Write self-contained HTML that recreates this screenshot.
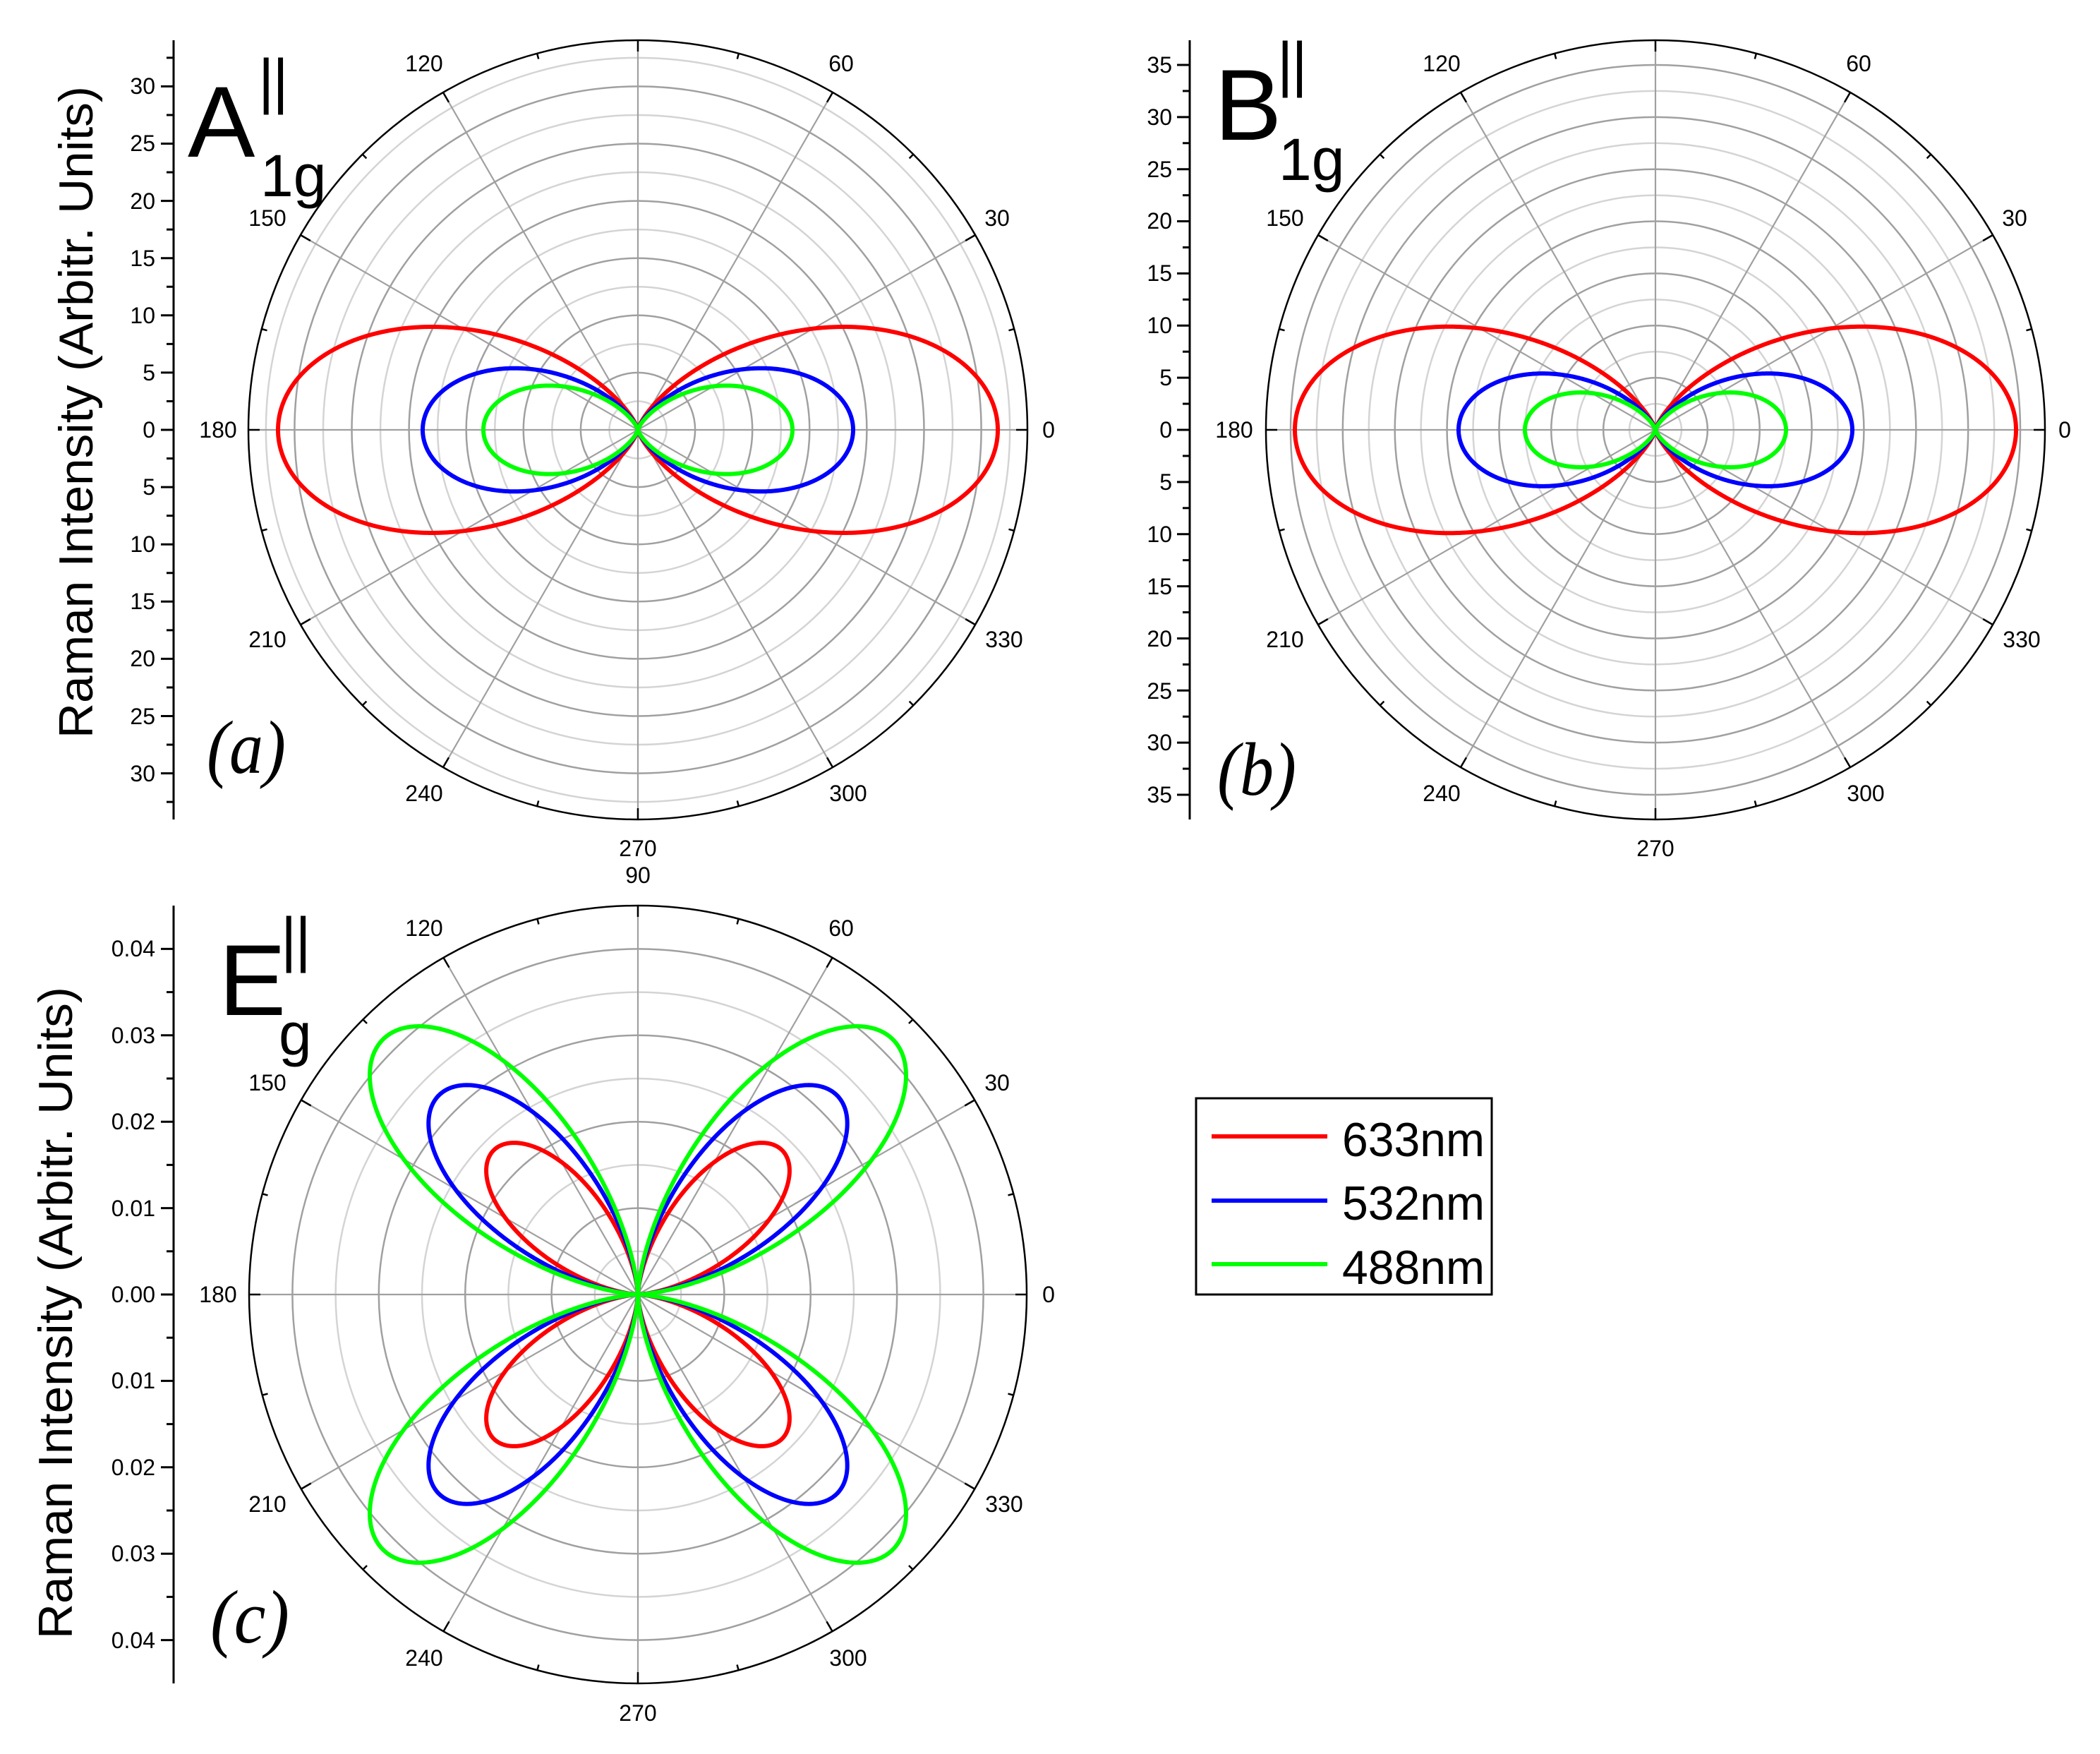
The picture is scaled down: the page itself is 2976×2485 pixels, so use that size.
<!DOCTYPE html>
<html><head><meta charset="utf-8">
<style>
html,body{margin:0;padding:0;background:#fff;}
svg{display:block;}
text{font-family:"Liberation Sans",Arial,sans-serif;fill:#000;}
.t{font-size:32px;}
.big{font-size:143px;}
.bar{font-size:86px;}
.sub{font-size:84px;}
.it{font-family:"Liberation Serif","Times New Roman",serif;font-style:italic;font-size:107px;}
.ttl{font-size:68px;}
.lg{font-size:68px;}
</style></head>
<body>
<svg id="s" xmlns="http://www.w3.org/2000/svg" width="2976" height="2485" viewBox="0 0 2976 2485">
<rect width="2976" height="2485" fill="#fff"/>
<g id="grid"></g>
<g id="curves"></g>
<g id="axes"></g>

<!-- Panel A texts -->
<g class="t" text-anchor="middle">
<text x="1192" y="101">60</text><text x="601" y="101">120</text>
<text x="1413" y="320">30</text><text x="379" y="320">150</text>
<text x="1486" y="620">0</text><text x="309" y="620">180</text>
<text x="1423" y="917">330</text><text x="379" y="917">210</text>
<text x="1202" y="1135">300</text><text x="601" y="1135">240</text>
<text x="904" y="1213">270</text><text x="904" y="1251">90</text>
</g>
<g class="t" text-anchor="end">
<text x="220" y="133">30</text><text x="220" y="214">25</text><text x="220" y="296">20</text>
<text x="220" y="377">15</text><text x="220" y="458">10</text><text x="220" y="539">5</text>
<text x="220" y="620">0</text><text x="220" y="701">5</text><text x="220" y="782">10</text>
<text x="220" y="863">15</text><text x="220" y="944">20</text><text x="220" y="1026">25</text>
<text x="220" y="1107">30</text>
</g>
<text class="ttl" text-anchor="middle" textLength="924" lengthAdjust="spacingAndGlyphs" transform="translate(131,584) rotate(-90)">Raman Intensity (Arbitr. Units)</text>
<text class="big" x="266" y="222">A</text>
<text class="bar" x="366" y="144" letter-spacing="-2">||</text>
<text class="sub" x="369" y="278">1g</text>
<text class="it" x="293" y="1095" textLength="112" lengthAdjust="spacingAndGlyphs">(a)</text>

<!-- Panel B texts -->
<g class="t" text-anchor="middle">
<text x="2634" y="101">60</text><text x="2043" y="101">120</text>
<text x="2855" y="320">30</text><text x="1821" y="320">150</text>
<text x="2926" y="620">0</text><text x="1749" y="620">180</text>
<text x="2865" y="917">330</text><text x="1821" y="917">210</text>
<text x="2644" y="1135">300</text><text x="2043" y="1135">240</text>
<text x="2346" y="1213">270</text>
</g>
<g class="t" text-anchor="end">
<text x="1661" y="103">35</text><text x="1661" y="177">30</text><text x="1661" y="251">25</text>
<text x="1661" y="324">20</text><text x="1661" y="398">15</text><text x="1661" y="472">10</text>
<text x="1661" y="546">5</text><text x="1661" y="620">0</text><text x="1661" y="694">5</text>
<text x="1661" y="768">10</text><text x="1661" y="842">15</text><text x="1661" y="916">20</text>
<text x="1661" y="990">25</text><text x="1661" y="1063">30</text><text x="1661" y="1137">35</text>
</g>
<text class="big" x="1721" y="198">B</text>
<text class="bar" x="1810" y="120" letter-spacing="-2">||</text>
<text class="sub" x="1812" y="255">1g</text>
<text class="it" x="1725" y="1126" textLength="112" lengthAdjust="spacingAndGlyphs">(b)</text>

<!-- Panel C texts -->
<g class="t" text-anchor="middle">
<text x="1192" y="1326">60</text><text x="601" y="1326">120</text>
<text x="1413" y="1545">30</text><text x="379" y="1545">150</text>
<text x="1486" y="1845">0</text><text x="309" y="1845">180</text>
<text x="1423" y="2142">330</text><text x="379" y="2142">210</text>
<text x="1202" y="2360">300</text><text x="601" y="2360">240</text>
<text x="904" y="2438">270</text>
</g>
<g class="t" text-anchor="end">
<text x="220" y="1355">0.04</text><text x="220" y="1478">0.03</text><text x="220" y="1600">0.02</text>
<text x="220" y="1723">0.01</text><text x="220" y="1845">0.00</text><text x="220" y="1967">0.01</text>
<text x="220" y="2090">0.02</text><text x="220" y="2212">0.03</text><text x="220" y="2335">0.04</text>
</g>
<text class="ttl" text-anchor="middle" textLength="924" lengthAdjust="spacingAndGlyphs" transform="translate(102,1860) rotate(-90)">Raman Intensity (Arbitr. Units)</text>
<text class="big" x="310" y="1438">E</text>
<text class="bar" x="398" y="1360" letter-spacing="-2">||</text>
<text class="sub" x="395" y="1494">g</text>
<text class="it" x="298" y="2327" textLength="112" lengthAdjust="spacingAndGlyphs">(c)</text>

<!-- Legend -->
<rect x="1695" y="1556" width="419" height="278" fill="none" stroke="#000" stroke-width="3"/>
<line x1="1717" y1="1610" x2="1881" y2="1610" stroke="#ff0000" stroke-width="6"/>
<line x1="1717" y1="1701" x2="1881" y2="1701" stroke="#0000ff" stroke-width="6"/>
<line x1="1717" y1="1791" x2="1881" y2="1791" stroke="#00ff00" stroke-width="6"/>
<text class="lg" x="1902" y="1638" textLength="202" lengthAdjust="spacingAndGlyphs">633nm</text>
<text class="lg" x="1902" y="1728" textLength="202" lengthAdjust="spacingAndGlyphs">532nm</text>
<text class="lg" x="1902" y="1819" textLength="202" lengthAdjust="spacingAndGlyphs">488nm</text>
</svg>
<script>
(function(){
var NS="http://www.w3.org/2000/svg";
function el(p,tag,a){var e=document.createElementNS(NS,tag);for(var k in a)e.setAttribute(k,a[k]);p.appendChild(e);return e;}
var grid=document.getElementById('grid'),cur=document.getElementById('curves'),ax=document.getElementById('axes');
function panel(P){
  var cx=P.cx,cy=P.cy,R=P.R;
  for(var k=1;k<=P.n;k++){
    el(grid,'circle',{cx:cx,cy:cy,r:P.step*k,fill:'none',stroke:(k%2==0)?'#a0a0a0':'#d4d4d4','stroke-width':2.5});
  }
  for(var a=0;a<360;a+=30){
    var t=a*Math.PI/180;
    el(grid,'line',{x1:cx,y1:cy,x2:cx+R*Math.cos(t),y2:cy-R*Math.sin(t),stroke:'#a0a0a0','stroke-width':2.2});
  }
  var cols=['#ff0000','#0000ff','#00ff00'];
  for(var i=0;i<3;i++){
    var A=P.amp[i],pts=[];
    for(var j=0;j<=1440;j++){
      var t=j/1440*2*Math.PI,r;
      if(P.type==0){var c=Math.cos(t);r=A*c*c*c*c;}
      else{var s=Math.sin(2*t);r=A*s*s;}
      pts.push((cx+r*Math.cos(t)).toFixed(2)+','+(cy-r*Math.sin(t)).toFixed(2));
    }
    el(cur,'polyline',{points:pts.join(' '),fill:'none',stroke:cols[i],'stroke-width':6,'stroke-linejoin':'round'});
  }
  el(ax,'circle',{cx:cx,cy:cy,r:R,fill:'none',stroke:'#000','stroke-width':2.5});
  for(var a=0;a<360;a+=15){
    var t=a*Math.PI/180,L=(a%30==0)?16:8;
    el(ax,'line',{x1:cx+R*Math.cos(t),y1:cy-R*Math.sin(t),x2:cx+(R-L)*Math.cos(t),y2:cy-(R-L)*Math.sin(t),stroke:'#000','stroke-width':2.5});
  }
  var X=P.ax;
  el(ax,'line',{x1:X,y1:cy-R,x2:X,y2:cy+R,stroke:'#000','stroke-width':3});
  var h=P.step;
  for(var m=-P.n;m<=P.n;m++){
    var y=cy-m*h,L=(m%2==0)?18:10;
    el(ax,'line',{x1:X-L,y1:y,x2:X,y2:y,stroke:'#000','stroke-width':3});
  }
}
panel({cx:904,cy:609,R:552,step:40.55,n:13,ax:246,type:0,amp:[510,305,219]});
panel({cx:2346,cy:609,R:552,step:36.93,n:14,ax:1686,type:0,amp:[511,279,185]});
panel({cx:904,cy:1834,R:551,step:61.2,n:8,ax:246,type:1,amp:[289,399,511]});
})();
</script>
</body></html>
